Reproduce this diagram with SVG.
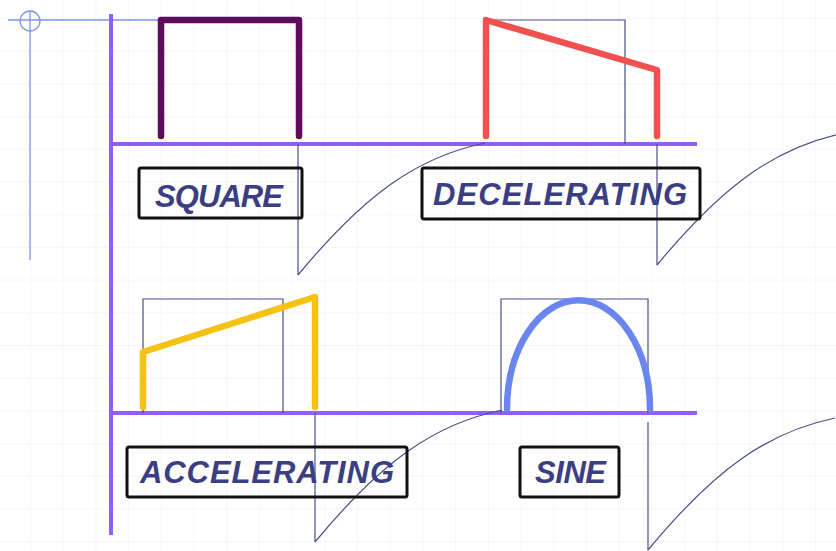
<svg xmlns="http://www.w3.org/2000/svg" xmlns:xlink="http://www.w3.org/1999/xlink" width="836" height="551" viewBox="0 0 836 551">
  <style>
    .axis { stroke: #9160f0; stroke-width: 4; fill: none; }
    .thin { stroke: #4a4f85; stroke-width: 1.2; fill: none; }
    .guide { stroke: #7f95e5; stroke-width: 1.3; fill: none; }
    .wave { stroke-width: 6.5; fill: none; stroke-linecap: round; stroke-linejoin: round; }
    .box { stroke: #111; stroke-width: 3; fill: none; }
    .label { font-family: "Liberation Sans", Arial, sans-serif; font-weight: bold; font-style: italic; font-size: 31px; fill: #3b3e82; }
  </style>
  <defs>
    <pattern id="grid" width="32.7" height="32.7" patternUnits="userSpaceOnUse" x="30" y="18">
      <path d="M0,0 H32.7 M0,0 V32.7" stroke="#f4f4f8" stroke-width="1.6" fill="none"/>
    </pattern>
    <!-- transition ramp from a pulse edge to the next pulse -->
    <path id="ramp" d="M0,0 C68,-82 120,-118 187,-132"/>
  </defs>

  <rect width="836" height="551" fill="#ffffff"/>
  <rect width="836" height="551" fill="url(#grid)"/>

  <!-- origin marker -->
  <g id="origin">
    <circle cx="30" cy="21" r="10" class="guide"/>
    <path d="M8,20 H160 M30,11 V260" class="guide"/>
  </g>

  <!-- axes -->
  <g id="axes">
    <path d="M111,14 V535" class="axis"/>
    <path d="M111,144 H697" class="axis"/>
    <path d="M111,413 H697" class="axis"/>
  </g>

  <!-- drop lines and ramps between pulses -->
  <g id="connectors" class="thin">
    <path d="M298,144 V275"/>
    <use xlink:href="#ramp" transform="translate(298,275)"/>
    <path d="M657,144 V265"/>
    <use xlink:href="#ramp" transform="translate(657,265)"/>
    <path d="M315,413 V542"/>
    <use xlink:href="#ramp" transform="translate(315,542)"/>
    <path d="M648,422 V550"/>
    <use xlink:href="#ramp" transform="translate(648,550)"/>
  </g>

  <g id="square">
    <path d="M161,136 V20 H299 V136" class="wave" stroke="#5e0b5e"/>
    <rect x="139" y="168" width="163" height="50" rx="2" class="box"/>
    <text x="155" y="207" class="label" textLength="128">SQUARE</text>
  </g>

  <g id="decelerating">
    <path d="M486,20 H625 V144" class="thin"/>
    <path d="M486,136 V20 L657,70 V136" class="wave" stroke="#f05050"/>
    <rect x="422" y="168" width="278" height="51" rx="2" class="box"/>
    <text x="433" y="205" class="label" textLength="254">DECELERATING</text>
  </g>

  <g id="accelerating">
    <path d="M143,413 V299 H283 V413" class="thin"/>
    <path d="M143,407 V352 L315,297 V407" class="wave" stroke="#f5c214"/>
    <rect x="127" y="447" width="280" height="50" rx="2" class="box"/>
    <text x="140" y="483" class="label" textLength="254">ACCELERATING</text>
  </g>

  <g id="sine">
    <path d="M501,413 V299 H648 V413" class="thin"/>
    <path d="M507,409 A71,108 0 0 1 650,409" class="wave" stroke="#6b85f0"/>
    <rect x="520" y="447" width="99" height="50" rx="2" class="box"/>
    <text x="535" y="483" class="label" textLength="71">SINE</text>
  </g>
</svg>
